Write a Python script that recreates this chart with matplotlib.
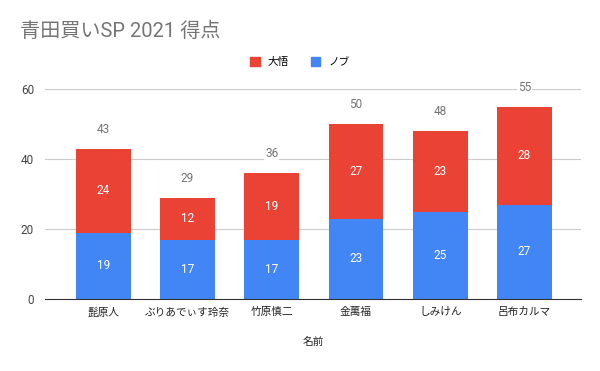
import matplotlib
matplotlib.use('Agg')
import matplotlib.pyplot as plt
import matplotlib.patches as mpatches

plt.rcParams['font.family'] = ['Roboto', 'Noto Sans CJK JP', 'DejaVu Sans']

# データ
names = ["髭原人", "ぶりあでぃす玲奈", "竹原慎二", "金萬福", "しみけん", "呂布カルマ"]
nobu = [19, 17, 17, 23, 25, 27]
daigo = [24, 12, 19, 27, 23, 28]
totals = [n + d for n, d in zip(nobu, daigo)]

blue = "#4285f4"
red = "#ea4335"

fig = plt.figure(figsize=(6, 3.71), dpi=100)
ax = fig.add_axes([45 / 600, 1 - 299 / 371, 536 / 600, 210 / 371])

x = list(range(len(names)))
b1 = ax.bar(x, nobu, width=0.65, color=blue, zorder=3)
b2 = ax.bar(x, daigo, bottom=nobu, width=0.65, color=red, zorder=3)

for i in x:
    ax.text(i, nobu[i] / 2, str(nobu[i]), ha='center', va='center',
            color='white', fontsize=8.5, zorder=4)
    ax.text(i, nobu[i] + daigo[i] / 2, str(daigo[i]), ha='center', va='center',
            color='white', fontsize=8.5, zorder=4)
    ax.annotate(str(totals[i]), xy=(i, totals[i]), xytext=(0, 11.3),
                textcoords='offset points', ha='center', va='baseline',
                color='#757575', fontsize=8.5, zorder=4,
                bbox=dict(boxstyle='square,pad=0.05', fc='white', ec='none'))

ax.set_xlim(-0.69, 5.67)
ax.set_ylim(0, 60)
ax.set_yticks([0, 20, 40, 60])
ax.set_xticks(x)
ax.set_xticklabels(names, fontsize=7.7, color='#222222')
ax.tick_params(axis='y', labelsize=8.5, labelcolor='#444444', length=0, pad=8)
ax.tick_params(axis='x', length=0, pad=6)
ax.grid(axis='y', color='#cccccc', lw=0.8, zorder=0)
for s in ['top', 'right', 'left']:
    ax.spines[s].set_visible(False)
ax.spines['bottom'].set_color('#333333')
ax.spines['bottom'].set_zorder(5)
ax.set_xlabel("名前", fontsize=7.7, color='#222222', labelpad=14)

fig.text(20 / 600, 1 - 31 / 371, "青田買いSP 2021 得点", fontsize=14.5,
         color='#757575', ha='left', va='center')

handles = [mpatches.Patch(color=red, label="大悟"),
           mpatches.Patch(color=blue, label="ノブ")]
fig.legend(handles=handles, loc='center', bbox_to_anchor=(0.5, 1 - 62 / 371),
           ncol=2, frameon=False, fontsize=7.7, handlelength=0.9, handleheight=0.9,
           handletextpad=0.8, columnspacing=2.0)

plt.savefig("out.png", dpi=100, facecolor='white')
plt.close()
